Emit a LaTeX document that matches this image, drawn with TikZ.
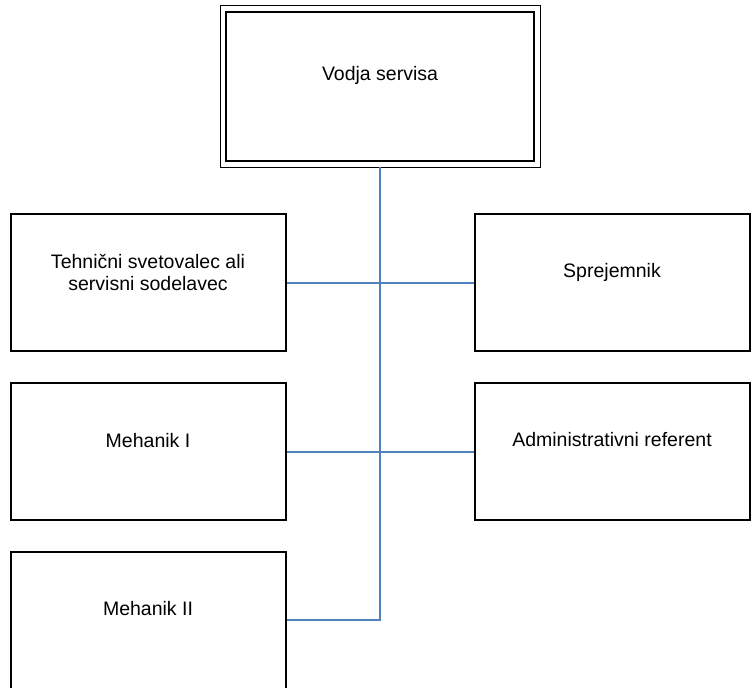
\documentclass[tikz,border=0pt]{standalone}
\usepackage{fontspec}
\setmainfont{Liberation Sans}
\definecolor{linkblue}{HTML}{4F81BD}
\begin{document}
\begin{tikzpicture}[x=1pt,y=-1pt,
  box/.style={draw=black, line width=2pt, rectangle, inner sep=0pt,
              minimum width=275pt, minimum height=137pt},
  lbl/.style={font=\fontsize{19.5}{22}\selectfont, inner sep=0pt, anchor=base, align=center},
  link/.style={draw=linkblue, line width=2pt}]
\useasboundingbox (0,0) rectangle (751,687);

% head of the service, double framed
\node[draw=black, line width=2pt, rectangle, inner sep=0pt,
      minimum width=308pt, minimum height=149pt] (head) at (380,86.5) {};
\draw[line width=1pt] ([shift={(-5pt,5pt)}]head.north west) rectangle ([shift={(5pt,-5pt)}]head.south east);
\node[lbl] (headT) at (380,81) {Vodja servisa};

% left column
\node[box] (tech) at (148,282.5) {};
\node[lbl] (techT) at (148,290) {Tehnični svetovalec ali\\servisni sodelavec};
\node[box] (mech1) at (148,451.5) {};
\node[lbl] (mech1T) at (148,447) {Mehanik I};
\node[box, minimum height=140pt] (mech2) at (148,622) {};
\node[lbl] (mech2T) at (148,615) {Mehanik II};

% right column
\node[box] (recv) at (612,282.5) {};
\node[lbl] (recvT) at (612,277) {Sprejemnik};
\node[box] (admin) at (612,451.5) {};
\node[lbl] (adminT) at (612,446) {Administrativni referent};

% connectors
\coordinate (m2link) at ([yshift=2pt]mech2.east);
\draw[link] (m2link) -| ([yshift=-5pt]head.south);
\draw[link] (tech.east) -- (recv.west);
\draw[link] (mech1.east) -- (admin.west);
\end{tikzpicture}
\end{document}
